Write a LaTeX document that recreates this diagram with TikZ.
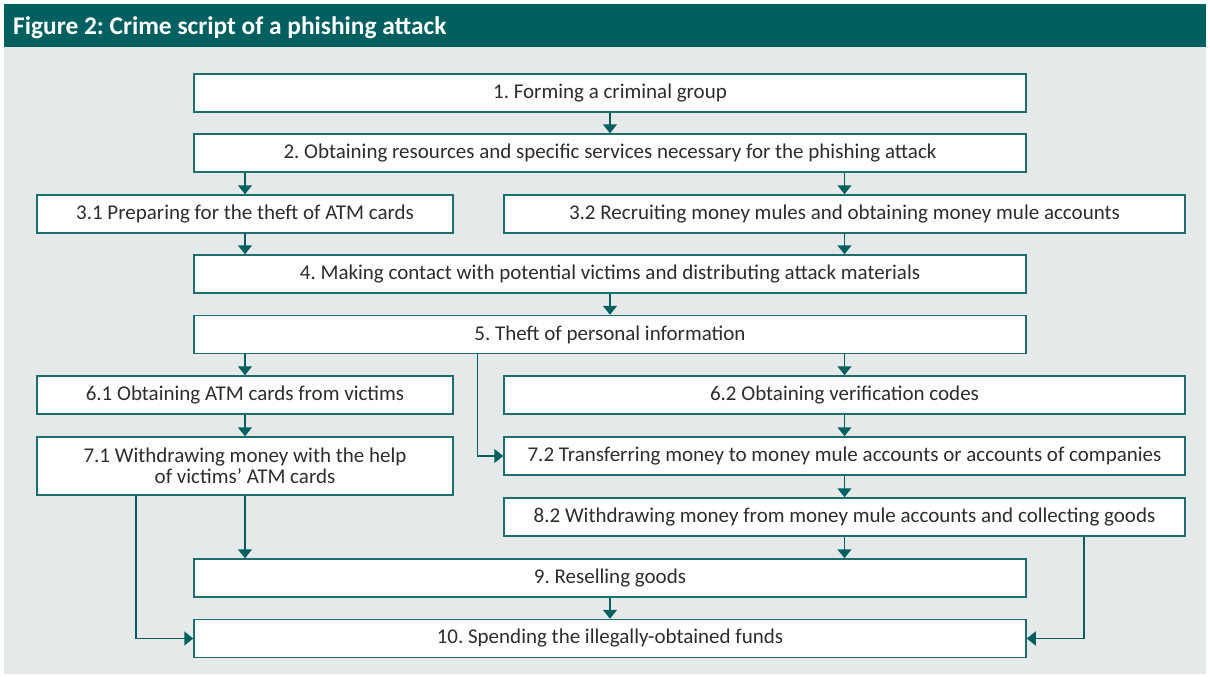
\documentclass[tikz,border=0pt]{standalone}
\usepackage{fontspec}
\setmainfont{Carlito}
\frenchspacing
\usetikzlibrary{arrows.meta,calc}
\definecolor{tealdark}{RGB}{0,96,96}
\definecolor{boxedge}{RGB}{30,110,110}
\definecolor{bggray}{RGB}{229,233,234}
\definecolor{txtgray}{RGB}{45,45,45}
\tikzset{
  box/.style={draw=boxedge, line width=1.5pt, fill=white, rectangle, inner sep=2pt,
    text=txtgray, font=\fontsize{21}{21}\selectfont, align=center, minimum height=38pt},
  wide/.style={box, minimum width=832pt},
  lbox/.style={box, minimum width=416pt},
  rbox/.style={box, minimum width=681pt},
  arr/.style={draw=tealdark, line width=1.5pt, -{Triangle[width=14pt,length=9pt]}}
}
\begin{document}
\begin{tikzpicture}[x=1pt,y=-1pt]
\useasboundingbox (0,0) rectangle (1210,677);
\fill[white] (0,0) rectangle (1210,677);
\fill[tealdark] (4,4) rectangle (1206,47);
\fill[bggray] (4,47) rectangle (1206,674);
\node[anchor=base west, text=white, font=\fontsize{25.4}{30}\selectfont\bfseries, inner sep=0pt] (title) at (13,35) {Figure 2: Crime script of a phishing attack};

\node[wide] (n1) at (610,93) {1. Forming a criminal group};
\node[wide] (n2) at (610,153) {2. Obtaining resources and specific services necessary for the phishing attack};
\node[lbox] (n31) at (245,214) {3.1 Preparing for the theft of ATM cards};
\node[rbox] (n32) at (844.5,214) {3.2 Recruiting money mules and obtaining money mule accounts};
\node[wide] (n4) at (610,274) {4. Making contact with potential victims and distributing attack materials};
\node[wide] (n5) at (610,334.5) {5. Theft of personal information};
\node[lbox] (n61) at (245,395) {6.1 Obtaining ATM cards from victims};
\node[rbox] (n62) at (844.5,395) {6.2 Obtaining verification codes};
\node[lbox, minimum height=58pt] (n71) at (245,466) {7.1 Withdrawing money with the help\\of victims’ ATM cards};
\node[rbox] (n72) at (844.5,456) {7.2 Transferring money to money mule accounts or accounts of companies};
\node[rbox] (n82) at (844.5,517) {8.2 Withdrawing money from money mule accounts and collecting goods};
\node[wide] (n9) at (610,578) {9. Reselling goods};
\node[wide] (n10) at (610,638.5) {10. Spending the illegally-obtained funds};

\draw[arr] (n1.south) -- (n2.north);
\draw[arr] (n2.south -| n31.north) -- (n31.north);
\draw[arr] (n2.south -| n32.north) -- (n32.north);
\draw[arr] (n31.south) -- (n31.south |- n4.north);
\draw[arr] (n32.south) -- (n32.south |- n4.north);
\draw[arr] (n4.south) -- (n5.north);
\draw[arr] (n5.south -| n61.north) -- (n61.north);
\draw[arr] (n5.south -| n62.north) -- (n62.north);
\draw[arr] ([xshift=284pt]n5.south west) |- (n72.west);
\draw[arr] (n61.south) -- (n71.north);
\draw[arr] (n62.south) -- (n72.north);
\draw[arr] (n72.south) -- (n82.north);
\draw[arr] (n71.south) -- (n71.south |- n9.north);
\draw[arr] (n82.south) -- (n82.south |- n9.north);
\draw[arr] (n9.south) -- (n10.north);
\draw[arr] ([xshift=-109pt]n71.south) |- (n10.west);
\draw[arr] ([xshift=239.5pt]n82.south) |- (n10.east);
\end{tikzpicture}
\end{document}
